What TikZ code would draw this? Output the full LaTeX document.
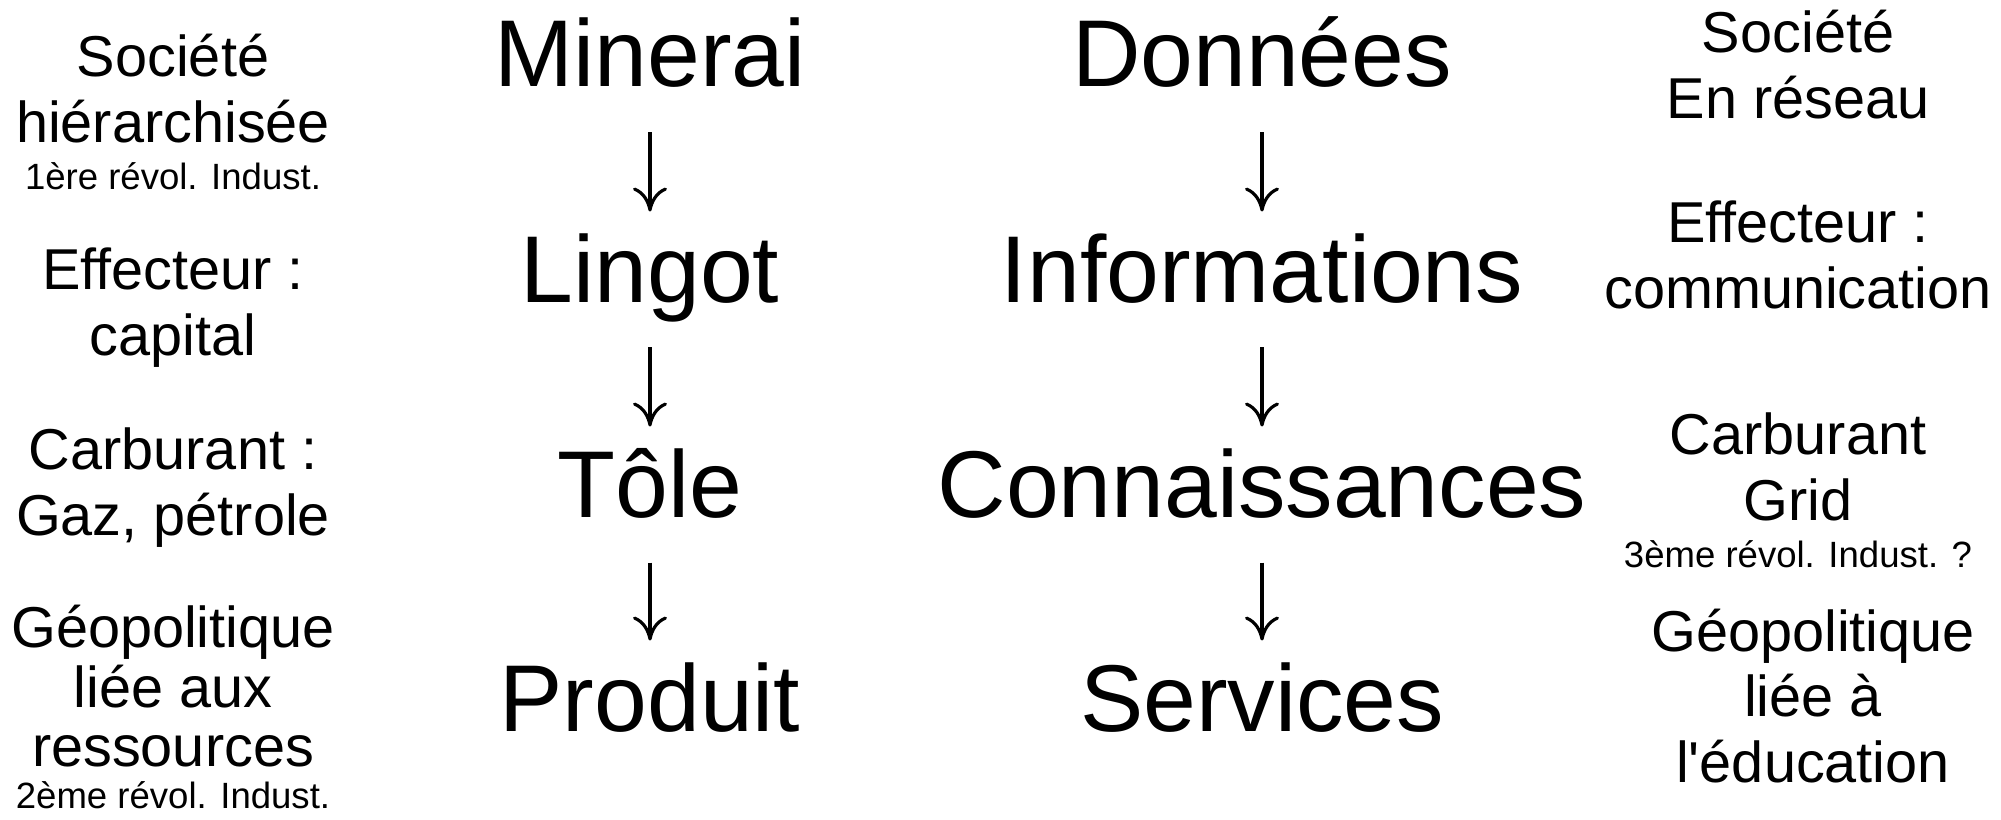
\documentclass[tikz,border=0pt]{standalone}
\usepackage{fontspec}
\setmainfont{Liberation Sans}
\usetikzlibrary{arrows.meta, positioning}

\tikzset{
  every picture/.style={line width=0.85pt},
  word/.style={anchor=base, inner sep=0pt, text height=0.71cm, text depth=0.24cm, font=\fontsize{27}{31}\selectfont},
  side/.style={anchor=base, inner sep=0pt, align=center, font=\fontsize{16.4}{18.6}\selectfont},
  arrow/.style={-{Computer Modern Rightarrow[length=0.24cm, width=0.34cm]}, line width=0.9pt, shorten <=0.2cm, shorten >=0.18cm},
}
% smaller line under a note
\newcommand{\revol}[1]{\\[-0.185cm]{\fontsize{10.4}{12}\selectfont #1}}

\begin{document}
\begin{tikzpicture}
  \useasboundingbox (0,0) rectangle (20.01,8.19);
  % matter chain
  \node[word] (minerai) at (6.50,7.32) {Minerai};
  \node[word] (lingot) at (6.50,5.17) {Lingot};
  \node[word] (tole) at (6.50,3.02) {Tôle};
  \node[word] (produit) at (6.50,0.88) {Produit};
  % knowledge chain
  \node[word] (donnees) at (12.62,7.32) {Données};
  \node[word] (infos) at (12.62,5.17) {Informations};
  \node[word] (connais) at (12.62,3.02) {Connaissances};
  \node[word] (services) at (12.62,0.88) {Services};
  \foreach \a/\b in {minerai/lingot, lingot/tole, tole/produit, donnees/infos, infos/connais, connais/services}
    \draw[arrow] (\a) -- (\b);
  % left notes (base = last line)
  \node[side] (societeL) at (1.73,6.30) {Société\\hiérarchisée\revol{1ère révol. Indust.}};
  \node[side] (effecteurL) at (1.73,4.64) {Effecteur :\\capital};
  \node[side] (carburantL) at (1.73,2.84) {Carburant :\\Gaz, pétrole};
  \node[side, font=\fontsize{16.4}{17}\selectfont] (geoL) at (1.73,0.11) {Géopolitique\\liée aux\\ressources\revol{2ème révol. Indust.}};
  % right notes
  \node[side] (societeR) at (17.98,7.01) {Société\\En réseau};
  \node[side] (effecteurR) at (17.98,5.11) {Effecteur :\\communication};
  \node[side] (carburantR) at (17.98,2.52) {Carburant\\Grid\revol{3ème révol. Indust. ?}};
  \node[side] (geoR) at (18.13,0.37) {Géopolitique\\liée à\\l\textquotesingle éducation};
\end{tikzpicture}
\end{document}
